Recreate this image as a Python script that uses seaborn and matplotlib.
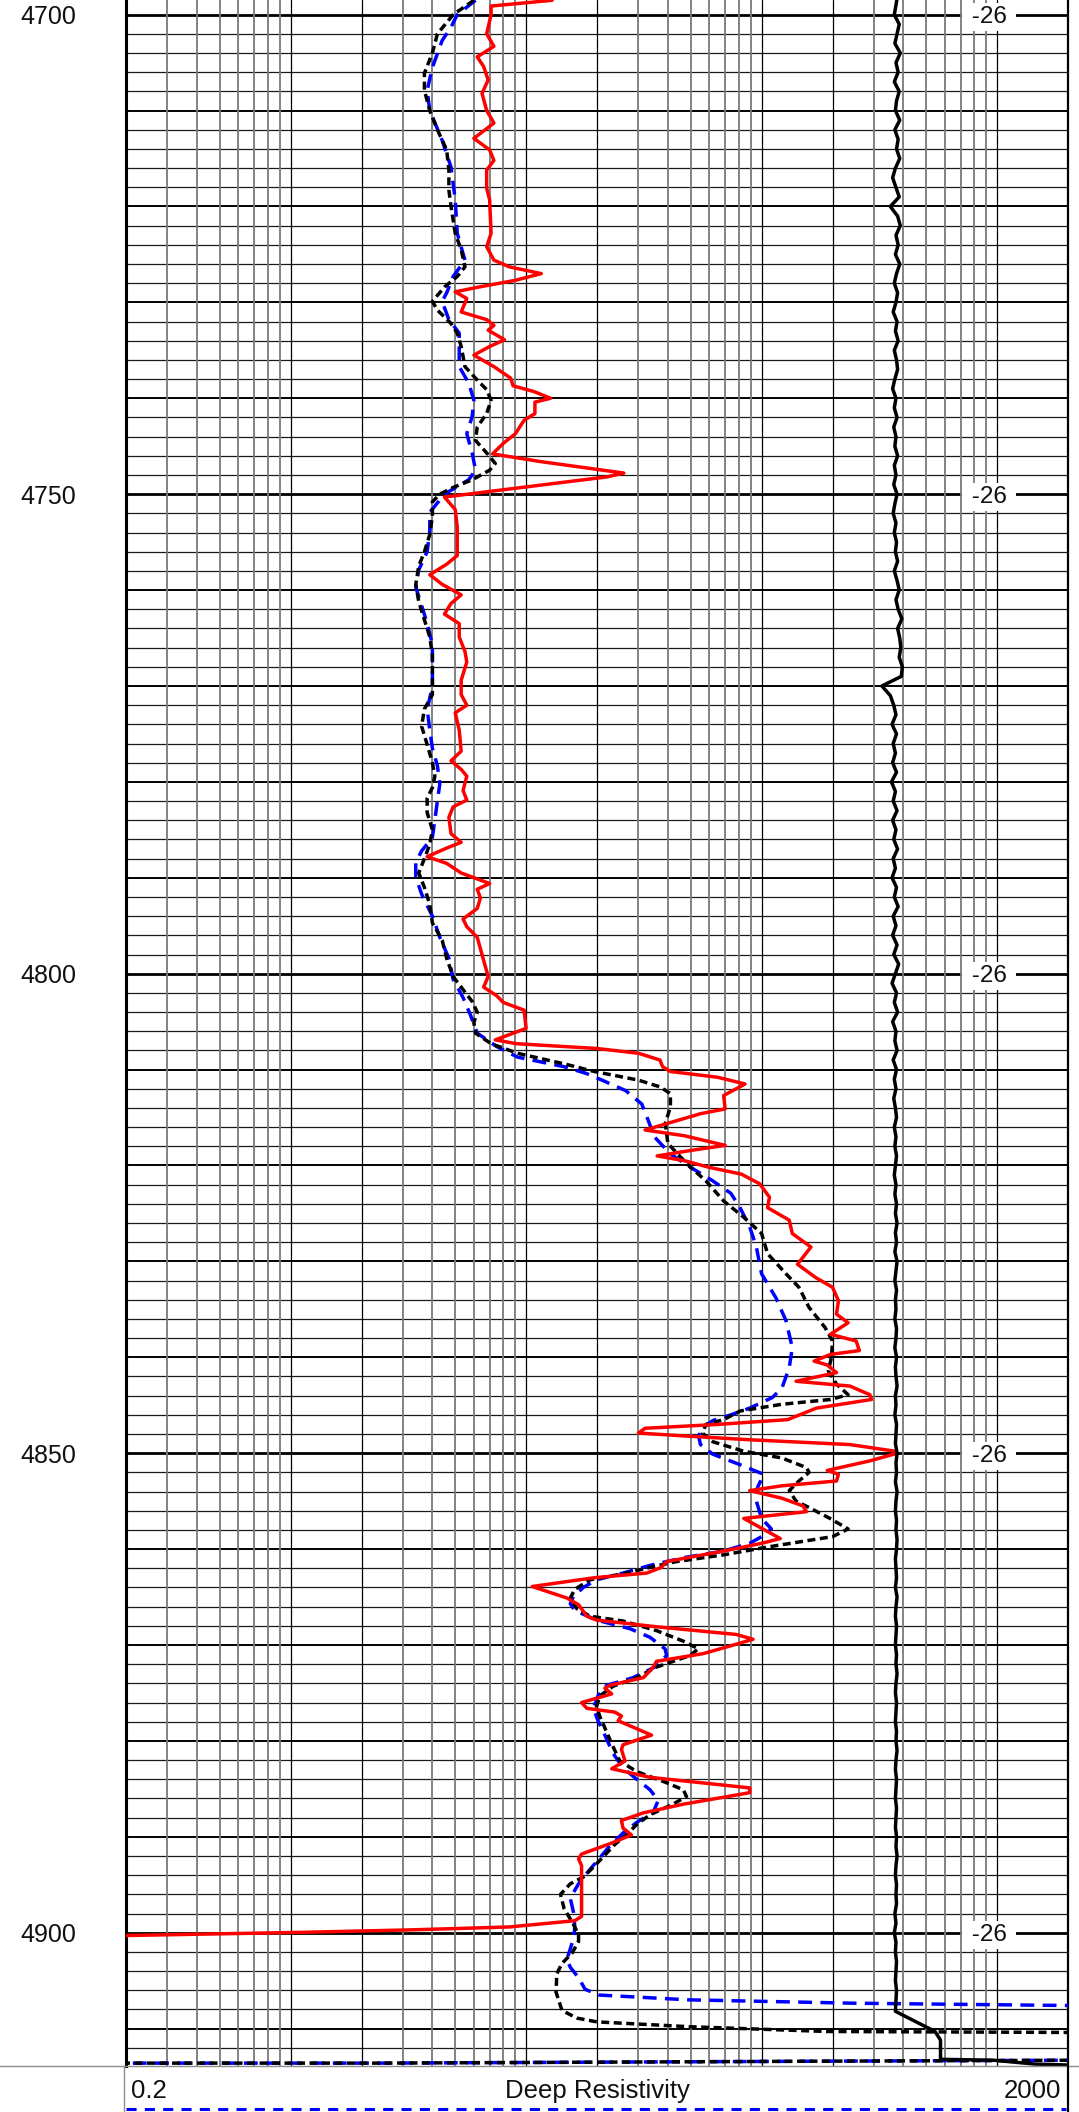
import matplotlib
matplotlib.use("Agg")
import matplotlib.pyplot as plt
from matplotlib.lines import Line2D
from matplotlib.ticker import NullLocator
import seaborn as sns

# Curva roja (resistividad profunda)
prof_rojo = [4698.5, 4699.1, 4700.0, 4702.0, 4703.3, 4704.4, 4705.4, 4706.8, 4708.2, 4710.0,
             4711.3, 4712.9, 4714.1, 4715.2, 4716.2, 4718.1, 4719.3, 4722.8, 4724.2, 4725.6,
             4726.3, 4727.0, 4727.7, 4728.4, 4728.9, 4729.6, 4731.0, 4731.8, 4732.4, 4732.9,
             4733.9, 4734.6, 4735.5, 4736.7, 4737.9, 4738.7, 4739.3, 4740.0, 4740.4, 4741.6,
             4742.3, 4743.7, 4744.7, 4745.8, 4746.6, 4747.8, 4748.2, 4750.3, 4751.6, 4753.4,
             4756.4, 4757.3, 4758.4, 4759.4, 4760.5, 4761.4, 4762.5, 4763.5, 4764.9, 4766.4,
             4767.5, 4769.4, 4770.9, 4772.0, 4772.8, 4774.6, 4776.8, 4777.8, 4778.7, 4779.4,
             4780.9, 4781.9, 4782.6, 4783.7, 4785.4, 4786.3, 4786.9, 4787.8, 4788.5, 4789.5,
             4790.6, 4791.2, 4792.1, 4793.2, 4794.3, 4795.1, 4796.2, 4798.0, 4800.3, 4801.4,
             4802.3, 4803.0, 4803.8, 4805.7, 4806.9, 4807.3, 4807.8, 4808.3, 4809.0, 4809.7,
             4810.2, 4810.8, 4811.5, 4812.0, 4812.7, 4814.1, 4814.6, 4816.3, 4816.9, 4817.9,
             4818.4, 4819.0, 4819.5, 4820.2, 4820.9, 4821.9, 4823.3, 4824.4, 4825.7, 4827.1,
             4828.5, 4830.3, 4831.7, 4832.7, 4834.1, 4835.5, 4836.4, 4837.6, 4838.3, 4839.3,
             4839.7, 4840.4, 4840.8, 4841.6, 4842.5, 4843.0, 4843.9, 4844.4, 4845.3, 4846.5,
             4847.0, 4847.4, 4847.9, 4848.2, 4848.6, 4849.1, 4849.8, 4850.1, 4850.8, 4851.8,
             4852.2, 4852.9, 4853.4, 4853.9, 4854.7, 4855.5, 4856.1, 4856.8, 4858.9, 4859.4,
             4860.2, 4861.3, 4861.9, 4862.5, 4863.0, 4863.9, 4865.1, 4865.8, 4867.0, 4867.4,
             4868.1, 4868.9, 4869.4, 4870.0, 4870.9, 4871.7, 4872.3, 4873.4, 4874.2, 4874.5,
             4875.1, 4876.0, 4876.6, 4877.0, 4877.4, 4877.9, 4879.4, 4880.4, 4880.9, 4882.1,
             4882.9, 4883.8, 4884.9, 4885.4, 4886.6, 4887.5, 4888.3, 4889.1, 4889.8, 4890.6,
             4891.8, 4892.3, 4893.0, 4898.3, 4898.75, 4899.4, 4899.7, 4899.96, 4900.3, 4900.35]
res_rojo = [12.9, 7.1, 7.1, 6.8, 7.3, 6.2, 6.6, 6.9, 6.5, 6.8,
            7.3, 6.0, 7.0, 7.3, 6.8, 6.8, 7.0, 7.1, 6.8, 7.3,
            8.5, 11.6, 9.0, 6.3, 5.0, 5.6, 5.3, 6.8, 7.3, 6.9,
            8.1, 7.0, 6.0, 7.3, 8.6, 8.8, 10.8, 12.7, 10.9, 10.9,
            9.8, 9.0, 8.0, 7.2, 11.5, 26.0, 22.0, 4.5, 5.0, 5.1,
            5.1, 4.6, 3.9, 4.4, 5.3, 4.8, 4.5, 5.2, 5.2, 5.5,
            5.6, 5.3, 5.3, 5.6, 5.0, 5.2, 5.3, 4.8, 5.3, 5.6,
            5.4, 5.6, 4.9, 4.7, 4.8, 5.3, 4.6, 3.8, 4.6, 5.3,
            7.0, 6.2, 6.4, 6.2, 5.4, 5.6, 6.2, 6.5, 6.9, 6.6,
            7.5, 8.0, 9.8, 10.0, 7.4, 9.1, 20, 30, 37, 38,
            41, 65, 85, 78, 69, 70, 55, 32, 47, 70,
            51, 36, 47, 60, 82, 98, 108, 106, 131, 135,
            162, 142, 170, 200, 212, 208, 233, 196, 252, 260,
            196, 167, 190, 208, 140, 237, 288, 293, 171, 129,
            65, 32, 30, 47, 89, 237, 370, 365, 288, 190,
            212, 208, 122, 89, 122, 150, 155, 84, 120, 100,
            69, 39.5, 37.6, 32.5, 19.3, 10.6, 14.9, 16.7, 18.1, 19.9,
            35.8, 78, 92, 76, 56.5, 35.8, 34.7, 31.5, 22.7, 21.6,
            23.1, 17.2, 18.1, 23.8, 25.4, 24.6, 34.1, 25.8, 25.4, 26.3,
            23.1, 33.6, 89, 89, 46.5, 31.5, 25.4, 25.8, 28, 23.4,
            17.2, 16.7, 17.2, 17.2, 16.1, 8.5, 3.3, 1.13, 0.2, 0.15]

# Curva negra punteada
prof_negro = [4698.5, 4700.0, 4702.0, 4704.0, 4706.1, 4707.9, 4710.0, 4712.0, 4714.1, 4716.2,
              4718.3, 4720.0, 4722.8, 4724.5, 4726.3, 4727.3, 4728.4, 4729.9, 4730.8, 4732.2,
              4733.2, 4734.6, 4736.7, 4738.1, 4739.1, 4740.2, 4741.6, 4743.0, 4744.4, 4745.7,
              4746.8, 4747.5, 4748.5, 4749.3, 4750.0, 4750.8, 4752.3, 4754.2, 4756.0, 4757.5,
              4759.4, 4761.2, 4763.1, 4764.9, 4766.8, 4769.0, 4770.9, 4772.4, 4774.2, 4776.1,
              4778.0, 4779.4, 4780.6, 4781.7, 4783.2, 4785.0, 4786.5, 4788.0, 4789.5, 4791.0,
              4792.8, 4794.7, 4796.5, 4798.4, 4800.3, 4801.4, 4802.9, 4804.0, 4805.1, 4806.2,
              4807.3, 4808.3, 4809.4, 4810.2, 4811.1, 4811.8, 4812.5, 4813.9, 4815.6, 4817.7,
              4818.8, 4820.2, 4821.6, 4823.7, 4825.4, 4827.1, 4829.2, 4831.3, 4832.7, 4834.8,
              4836.9, 4838.3, 4840.0, 4841.4, 4842.8, 4843.9, 4844.4, 4844.9, 4845.6, 4846.5,
              4847.0, 4847.9, 4848.8, 4849.8, 4850.5, 4851.5, 4852.0, 4852.9, 4853.9, 4855.0,
              4855.7, 4856.8, 4857.9, 4858.7, 4859.8, 4860.6, 4861.3, 4861.9, 4862.5, 4863.2,
              4864.2, 4865.1, 4866.2, 4867.0, 4867.5, 4868.5, 4869.6, 4870.4, 4871.1, 4872.3,
              4873.4, 4874.3, 4875.3, 4876.4, 4877.5, 4879.1, 4880.6, 4882.1, 4883.2, 4884.3,
              4885.1, 4885.8, 4886.6, 4887.7, 4888.7, 4889.6, 4890.8, 4891.9, 4893.0, 4894.2,
              4894.9, 4896.0, 4897.5, 4898.9, 4900.2, 4900.9, 4902.1, 4903.2, 4904.3, 4906.2,
              4908.1, 4908.9, 4909.3, 4909.8, 4910.3, 4910.4, 4910.45, 4913.3, 4913.3, 4913.4,
              4913.6, 4913.6]
res_negro = [6.0, 4.9, 4.2, 4.0, 3.7, 3.7, 3.9, 4.2, 4.6, 4.7,
             4.7, 4.8, 5.0, 5.3, 5.5, 5.1, 4.5, 4.0, 4.2, 4.8,
             5.1, 5.3, 5.5, 6.2, 6.8, 7.1, 6.8, 6.2, 6.1, 6.8,
             7.4, 7.0, 5.9, 4.9, 4.3, 4.0, 4.0, 3.9, 3.7, 3.5,
             3.4, 3.5, 3.7, 3.9, 4.0, 4.0, 4.0, 3.7, 3.6, 3.8,
             4.0, 4.1, 4.0, 3.8, 3.8, 4.0, 3.9, 3.7, 3.5, 3.7,
             3.9, 4.0, 4.4, 4.6, 4.9, 5.3, 5.9, 6.2, 6.0, 6.1,
             7.1, 9.2, 14.5, 19.5, 30, 37, 41, 41, 39, 40,
             44, 50, 58, 69, 84, 100, 106, 127, 144, 159,
             186, 200, 198, 192, 208, 233, 196, 122, 81, 69,
             58, 56, 62, 84, 122, 155, 159, 144, 131, 140,
             160, 195, 233, 200, 105, 69, 43.5, 33.6, 26.7, 18.7,
             16.1, 15.4, 16.4, 18.7, 25.8, 35.8, 46.5, 53.9, 49.6, 35.8,
             29.5, 23.4, 20.6, 19.9, 20.6, 22, 23.4, 25, 29.5, 38.9,
             46.5, 48, 42, 33.6, 29.5, 27.2, 23.8, 21.6, 19.6, 17.5,
             15.4, 14.0, 14.5, 15.7, 16.7, 16.7, 15.7, 14.2, 13.5, 13.4,
             14.2, 16.4, 20, 49, 188, 2000, 5000, 5000, 2000, 173,
             2.4, 0.1]

# Curva azul discontinua
prof_azul = [4698.5, 4700.0, 4701.3, 4702.7, 4705.5, 4707.9, 4710.0, 4713.1, 4715.9, 4719.3,
             4722.8, 4725.6, 4727.3, 4729.0, 4729.9, 4731.8, 4733.2, 4736.7, 4738.4, 4740.2,
             4741.9, 4743.7, 4745.7, 4747.5, 4748.5, 4750.0, 4751.9, 4753.8, 4756.0, 4757.9,
             4759.7, 4761.6, 4763.5, 4765.7, 4767.9, 4770.1, 4772.4, 4774.6, 4776.5, 4778.3,
             4780.2, 4782.0, 4783.9, 4785.8, 4787.2, 4788.4, 4789.9, 4791.7, 4794.0, 4796.2,
             4798.4, 4800.6, 4802.5, 4804.3, 4806.2, 4807.6, 4808.7, 4809.7, 4810.4, 4811.1,
             4812.2, 4813.6, 4815.3, 4817.0, 4818.8, 4820.2, 4821.6, 4822.9, 4824.4, 4826.4,
             4828.5, 4831.3, 4833.8, 4836.2, 4839.0, 4841.1, 4843.2, 4844.2, 4845.3, 4846.0,
             4846.6, 4847.4, 4848.2, 4849.1, 4850.1, 4851.2, 4852.2, 4853.6, 4855.0, 4856.8,
             4857.9, 4858.7, 4859.4, 4860.2, 4860.9, 4861.7, 4862.5, 4863.2, 4864.0, 4864.9,
             4865.7, 4866.4, 4867.4, 4868.3, 4869.2, 4870.4, 4871.1, 4872.3, 4873.4, 4874.2,
             4875.3, 4876.6, 4877.9, 4879.4, 4881.3, 4882.8, 4884.0, 4885.1, 4886.2, 4887.4,
             4888.5, 4889.6, 4891.1, 4892.6, 4893.8, 4894.9, 4896.4, 4897.9, 4899.4, 4900.6,
             4901.7, 4902.8, 4903.6, 4904.7, 4905.9, 4906.5, 4907.0, 4907.35, 4907.6, 4907.65,
             4913.3, 4913.3, 4913.4, 4913.6, 4913.6]
res_azul = [6.1, 5.1, 4.8, 4.4, 4.0, 3.8, 3.9, 4.4, 4.8, 5.0,
            5.1, 5.5, 4.9, 4.6, 4.4, 4.7, 5.2, 5.2, 5.7, 6.0,
            5.9, 5.6, 5.9, 6.1, 5.7, 4.5, 3.9, 3.9, 3.8, 3.5,
            3.4, 3.6, 3.8, 4.0, 4.0, 4.0, 3.8, 3.9, 4.0, 4.2,
            4.3, 4.2, 4.1, 4.0, 3.6, 3.4, 3.4, 3.6, 4.0, 4.3,
            4.7, 4.9, 5.4, 5.8, 6.2, 7.5, 9.2, 14.5, 18, 21,
            26.5, 31, 33, 35, 41, 50, 62, 74, 81, 89,
            95, 100, 115, 127, 135, 131, 122, 111, 89, 74,
            62, 56, 54, 55, 62, 81, 102, 96, 95, 100,
            110, 100, 89, 69, 46.5, 33.6, 25.8, 19.9, 17.5, 15.9,
            15.4, 16.1, 19.9, 27.6, 33.6, 38.9, 39.5, 35.2, 28.5, 22,
            20.2, 19.3, 20.2, 21.6, 23.4, 25.8, 29.5, 33.6, 36.4, 34.7,
            29.5, 25.8, 22.4, 19.9, 18.1, 16.7, 15.4, 15.9, 16.1, 15.9,
            15.4, 14.9, 15.4, 16.7, 17.8, 20.4, 48.7, 244, 2000, 5000,
            5000, 2000, 173, 2.4, 0.1]

# Curva negra continua de la derecha (un valor por pie, 4698 a 4907, y la cola final)
res_sp = [378, 372, 366, 384, 376, 368, 388, 372, 380, 366,
          384, 374, 370, 386, 368, 380, 374, 386, 370, 360,
          372, 384, 352, 378, 388, 372, 380, 370, 386, 374,
          366, 378, 372, 362, 376, 370, 380, 366, 374, 378,
          368, 360, 372, 366, 376, 364, 372, 368, 378, 366,
          372, 364, 376, 368, 362, 372, 366, 374, 370, 378,
          366, 376, 384, 372, 380, 394, 378, 386, 390, 384,
          396, 392, 324, 352, 364, 372, 358, 374, 362, 370,
          360, 374, 356, 370, 362, 376, 360, 372, 364, 378,
          362, 370, 358, 374, 366, 380, 362, 372, 360, 376,
          364, 382, 370, 358, 374, 366, 378, 360, 372, 368,
          376, 362, 374, 366, 372, 364, 370, 374, 366, 372,
          368, 374, 370, 366, 372, 368, 374, 370, 376, 370,
          374, 368, 376, 372, 368, 374, 370, 372, 368, 374,
          372, 368, 374, 370, 372, 376, 370, 372, 368, 374,
          372, 370, 376, 372, 374, 370, 376, 372, 370, 374,
          372, 376, 374, 370, 372, 374, 370, 376, 372, 370,
          374, 372, 370, 374, 372, 376, 372, 370, 374, 372,
          370, 374, 372, 376, 372, 370, 374, 372, 370, 374,
          372, 370, 374, 372, 376, 372, 370, 374, 372, 374,
          368, 372, 366, 372, 370, 374, 372, 370, 374, 372]
prof_sp = list(range(4698, 4908))
cola_prof_sp = [4908.2, 4910.3, 4911.2, 4913.2, 4913.3, 4913.7, 4913.8, 4913.85]
cola_res_sp = [370, 545, 575, 575, 968, 1450, 2000, 3000]

etiquetas_prof = [4700, 4750, 4800, 4850, 4900]
lineas_x = [0.3, 0.4, 0.5, 0.6, 0.7, 0.8, 0.9, 1, 2, 3, 4, 5, 6, 7, 8, 9, 10, 20,
            30, 40, 50, 60, 70, 80, 90, 100, 200, 300, 400, 500, 600, 700, 800, 900, 1000]
lineas_negras = [1, 2, 10, 20, 100, 200, 1000]

sns.set_style("white")
plt.rcParams['font.family'] = ['Liberation Sans', 'DejaVu Sans']

W, H = 1079, 2112
fig = plt.figure(figsize=(W / 100, H / 100), dpi=100)
ax = fig.add_axes([126 / W, 46 / H, 942 / W, 2066 / H])
ax.set_xscale('log')
ax.set_xlim(0.2, 2000)
ax.set_ylim(4913.9, 4698.47)

# Rejilla horizontal: cada 2 pies, mas gruesa cada 10 y cada 50
for d in range(4698, 4916, 2):
    if d % 50 == 0:
        ax.axhline(d, color='black', lw=2.0, zorder=1)
    elif d % 10 == 0:
        ax.axhline(d, color='black', lw=1.4, zorder=1)
    else:
        ax.axhline(d, color='#1a1a1a', lw=0.9, zorder=1)

# Rejilla vertical logaritmica
for v in lineas_x:
    if v in lineas_negras:
        ax.axvline(v, color='black', lw=0.9, zorder=1)
    else:
        ax.axvline(v, color='#7a7a7a', lw=1.3, zorder=1)

# Etiquetas "-26" con fondo blanco
for d in etiquetas_prof:
    ax.text(924, d, ' -26 ', ha='center', va='center_baseline', fontsize=17.5, color='#111111',
            zorder=2, bbox=dict(boxstyle='square,pad=0.12', fc='white', ec='none'))


def curva(prof, valores, color, lw, estilo, z):
    sns.lineplot(x=valores, y=prof, ax=ax, color=color, linewidth=lw, linestyle=estilo,
                 sort=False, estimator=None, legend=False, zorder=z)


curva(prof_azul, res_azul, '#0000ff', 2.5, (0, (4.0, 2.4)), 3)
curva(prof_negro, res_negro, 'black', 2.5, (0, (2.3, 1.3)), 4)
curva(prof_rojo, res_rojo, '#ff0000', 2.5, '-', 5)
curva(prof_sp + cola_prof_sp, res_sp + cola_res_sp, 'black', 2.5, '-', 6)

# Ejes y etiquetas de profundidad
ax.xaxis.set_major_locator(NullLocator())
ax.xaxis.set_minor_locator(NullLocator())
ax.set_yticks(etiquetas_prof)
ax.set_yticklabels([str(d) for d in etiquetas_prof], fontsize=18, color='#111111')
ax.tick_params(axis='y', length=0, pad=36)
ax.set_xlabel('')
ax.set_ylabel('')
ax.spines['top'].set_visible(False)
ax.spines['bottom'].set_visible(False)
ax.spines['left'].set_linewidth(2.2)
ax.spines['right'].set_linewidth(1.6)
for s in ['left', 'right']:
    ax.spines[s].set_color('black')

# Pie de la pista
def fy(y):
    return 1 - y / H


fig.add_artist(Line2D([0, 1], [fy(2066), fy(2066)], transform=fig.transFigure, color='#8c8c8c', lw=1.0))
fig.add_artist(Line2D([124 / W, 124 / W], [fy(2066), 0], transform=fig.transFigure, color='#8c8c8c', lw=1.0))
fig.add_artist(Line2D([1068 / W, 1068 / W], [fy(2066), 0], transform=fig.transFigure, color='black', lw=1.6))
fig.add_artist(Line2D([126 / W, 1066 / W], [fy(2109), fy(2109)], transform=fig.transFigure,
                      color='#0000ff', lw=2.2, linestyle=(0, (3.3, 2.7))))
fig.text(131 / W, fy(2091), '0.2', ha='left', va='center', fontsize=18.5, color='#111111')
fig.text(597 / W, fy(2091), 'Deep Resistivity', ha='center', va='center', fontsize=18.5, color='#111111')
fig.text(1061 / W, fy(2091), '2000', ha='right', va='center', fontsize=18.5, color='#111111')

fig.savefig('out.png', dpi=100)
